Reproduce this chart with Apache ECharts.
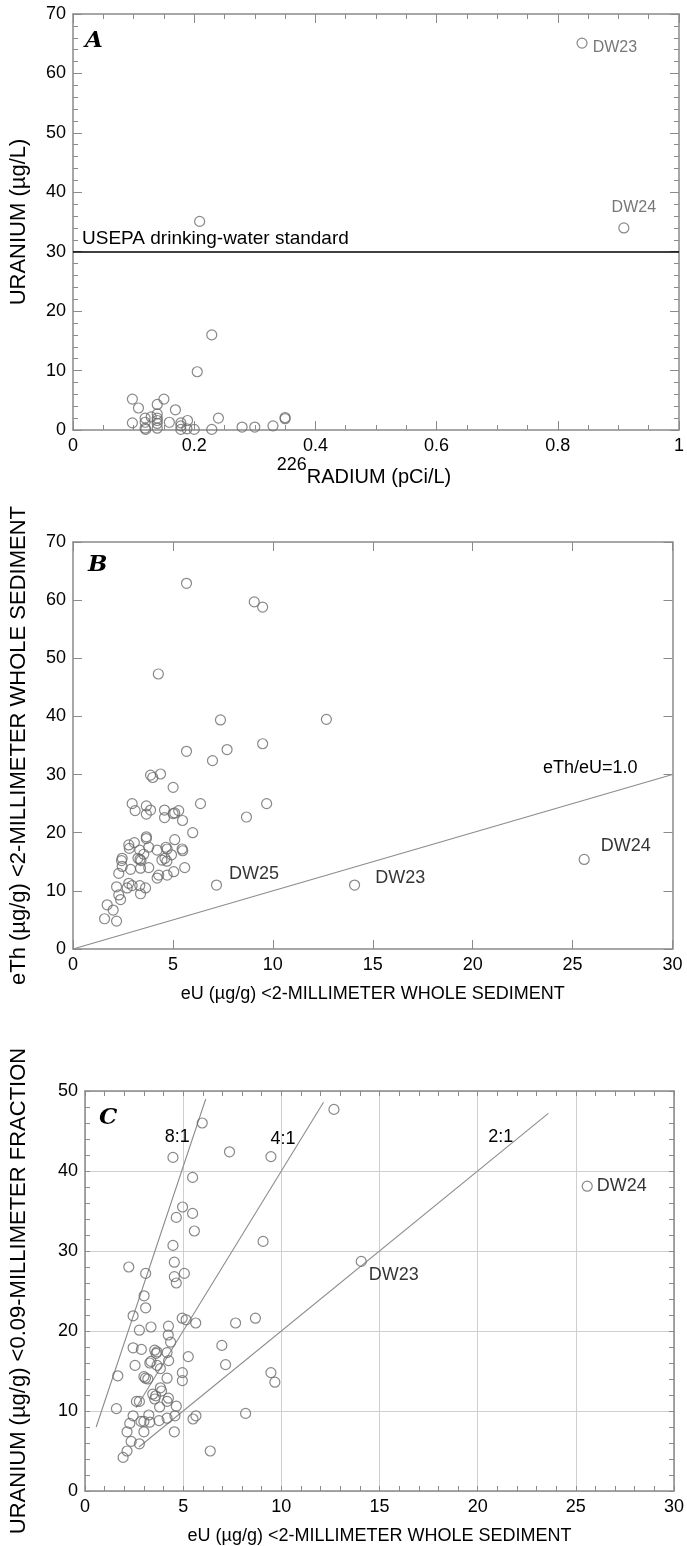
<!DOCTYPE html>
<html>
<head>
<meta charset="utf-8">
<script src="https://cdn.jsdelivr.net/npm/echarts@6/dist/echarts.min.js"></script>
<style>html,body{margin:0;padding:0;background:#fff}#c{width:687px;height:1546px}</style>
</head>
<body>
<div id="c"></div>
<script>
// ---------- Panel A: 226Ra vs U in water ----------
const aRadium  = [0.098,0.108,0.139,0.150,0.169,0.098,0.119,0.119,0.119,0.120,0.129,0.139,0.139,0.139,0.139,0.139,0.159,0.178,0.178,0.178,0.189,0.188,0.200,0.205,0.229,0.209,0.229,0.240,0.279,0.300,0.330,0.350,0.350];
const aUranium = [5.2,  3.7,  4.3,  5.2,  3.4,  1.2,  2.0,  1.3,  0.3,  0.1,  2.2,  2.7,  2.0,  1.6,  1.1,  0.3,  1.3,  1.2,  0.7,  0.1,  1.6,  0.2,  0.1,  9.8,  16.0, 35.1, 0.1,  2.0,  0.5,  0.5,  0.7,  2.1,  1.9];
const aTagNames   = ['DW23','DW24'];
const aTagRadium  = [0.840, 0.909];
const aTagUranium = [65.1, 34.0];
const usepaStandard = 30;
const usepaText = 'USEPA drinking-water standard';
const aXTicks = ['0','0.2','0.4','0.6','0.8','1'];
const aYTicks = ['0','10','20','30','40','50','60','70'];

// ---------- Panel B: eU vs eTh ----------
const bEU  = [5.68,9.07,9.49,4.27,7.38,12.68,5.68,7.71,9.49,6.98,3.88,3.99,4.38,5.01,2.96,3.11,3.67,3.67,3.88,4.58,4.58,5.01,5.09,5.29,5.48,6.38,9.69,8.68,5.99,3.67,3.67,5.09,3.07,2.79,2.82,3.34,3.79,4.21,4.65,4.71,4.93,5.46,5.49,2.46,2.43,3.25,3.35,3.40,3.54,4.45,4.60,4.70,3.79,3.38,2.88,2.29,2.46,4.29,4.21,4.71,5.04,5.59,2.79,2.96,2.71,2.18,3.34,3.63,3.38,2.29,2.38,1.71,2.01,1.58,2.18];
const bETh = [62.9,59.7,58.8,47.3,39.4,39.5,34.0,34.3,35.3,32.4,29.9,29.5,30.1,27.8,25.0,23.8,24.6,23.2,23.9,23.9,22.6,23.3,23.4,23.8,22.1,25.0,25.0,22.7,20.0,19.3,19.0,18.8,18.3,17.9,17.3,17.0,17.5,17.0,17.5,17.2,16.2,17.2,16.9,15.6,15.2,15.6,15.4,15.2,16.3,15.3,15.6,15.1,14.0,13.9,13.7,13.0,14.2,12.7,12.2,12.7,13.3,14.0,11.3,10.9,10.5,10.7,10.9,10.5,9.5,9.3,8.5,7.6,6.7,5.2,4.8];
const bTagNames = ['DW25','DW23','DW24'];
const bTagEU    = [7.18, 14.09, 25.58];
const bTagETh   = [11.0, 11.0, 15.4];
const bRatioLine = [[0,0],[30,30]];
const bRatioName = 'eTh/eU=1.0';
const bXTicks = ['0','5','10','15','20','25','30'];
const bYTicks = ['0','10','20','30','40','50','60','70'];

// ---------- Panel C: eU vs U in <0.09 mm fraction ----------
const cEU = [12.68,5.97,4.48,7.36,9.47,5.48,4.97,4.65,5.48,5.57,9.07,4.48,2.23,3.09,4.55,4.55,4.65,5.06,3.01,3.09,2.45,4.95,5.15,5.64,7.67,8.68,2.77,3.36,4.25,4.24,4.36,2.45,2.87,3.55,3.62,3.67,4.18,6.97,2.55,3.30,3.36,3.67,4.26,5.26,7.16,4.96,4.96,3.00,3.08,3.20,3.84,4.18,9.47,9.67,1.67,2.62,2.77,3.45,3.60,3.55,3.84,3.90,3.80,4.18,4.25,4.65,1.60,2.45,2.28,2.85,3.00,3.25,3.30,3.77,4.18,4.58,5.50,5.65,8.18,2.14,3.00,4.55,2.35,2.77,2.14,1.94,6.38];
const cU  = [47.7,46.0,41.7,42.4,41.8,39.2,35.5,34.2,34.7,32.5,31.2,30.7,28.0,27.2,28.6,26.8,26.0,27.2,24.4,22.9,21.9,21.6,21.4,21.0,21.0,21.6,20.1,20.5,20.6,19.5,18.6,17.9,17.7,17.6,17.2,17.4,17.3,18.2,15.7,16.0,16.2,15.7,16.3,16.8,15.8,14.8,13.8,14.3,14.1,14.0,15.3,14.1,14.8,13.6,14.4,11.2,11.2,12.1,11.9,11.5,12.9,12.5,10.5,11.2,11.6,10.6,10.3,9.4,8.45,8.7,8.7,9.5,8.6,8.8,9.1,9.4,9.0,9.4,9.7,7.4,7.4,7.4,6.2,5.9,5.0,4.2,5.0];
const cTagNames = ['DW23','DW24'];
const cTagEU    = [14.07, 25.58];
const cTagU     = [28.7, 38.1];
const cLineNames = ['8:1','4:1','2:1'];
const cLine8 = [[0.57,8.0],[6.15,49.0]];
const cLine4 = [[2.6,10.4],[12.15,48.6]];
const cLine2 = [[2.75,5.5],[23.6,47.2]];
const cXTicks = ['0','5','10','15','20','25','30'];
const cYTicks = ['0','10','20','30','40','50'];

// ---------- styling ----------
const FONT = '"Liberation Sans", Arial, sans-serif';
const AX = '#8a8a8a';
const PT = '#6a6a6a';
const TICK_FS = 18;
const zip = (xs, ys) => xs.map((x, i) => [x, ys[i]]);

function axisBase(g, min, max, interval, minor, tickLen, grid) {
  return {
    gridIndex: g, type: 'value', min, max, interval,
    axisLine: {show: true, onZero: false, lineStyle: {color: AX, width: 1.5}},
    axisTick: {show: true, inside: true, length: tickLen, lineStyle: {color: AX, width: 1}},
    minorTick: {show: minor > 0, splitNumber: minor || 5, length: 5, lineStyle: {color: AX, width: 1}},
    minorSplitLine: {show: false},
    splitLine: {show: !!grid, lineStyle: {color: '#cfcfcf', width: 1}}
  };
}
function xPair(g, min, max, interval, minor, tickLen, ticks, name, nameGap, grid) {
  const base = axisBase(g, min, max, interval, minor, tickLen, grid);
  return [
    Object.assign({}, base, {
      position: 'bottom',
      axisLabel: {color: '#000', fontSize: TICK_FS, fontFamily: FONT, margin: 7,
        formatter: v => ticks[Math.round((v - min) / interval)]},
      name, nameLocation: 'middle', nameGap,
      nameTextStyle: {color: '#000', fontSize: 18, fontFamily: FONT}
    }),
    Object.assign({}, base, {position: 'top', axisLabel: {show: false}, splitLine: {show: false}})
  ];
}
function yPair(g, min, max, interval, minor, tickLen, ticks, name, nameGap, grid) {
  const base = axisBase(g, min, max, interval, minor, tickLen, grid);
  return [
    Object.assign({}, base, {
      position: 'left',
      axisLabel: {color: '#000', fontSize: TICK_FS, fontFamily: FONT, margin: 7,
        formatter: v => ticks[Math.round((v - min) / interval)]},
      name, nameLocation: 'middle', nameGap,
      nameTextStyle: {color: '#000', fontSize: 22, fontFamily: FONT}
    }),
    Object.assign({}, base, {position: 'right', axisLabel: {show: false}, splitLine: {show: false}})
  ];
}

const circle = {color: 'rgba(0,0,0,0)', borderColor: PT, borderWidth: 1.2};
function scatter(xi, yi, data) {
  return {type: 'scatter', xAxisIndex: xi, yAxisIndex: yi, data, symbol: 'circle', symbolSize: 10,
    itemStyle: circle, silent: true, z: 3};
}
function tagged(xi, yi, names, xs, ys, labelStyles, color, size) {
  return {type: 'scatter', xAxisIndex: xi, yAxisIndex: yi, symbol: 'circle', symbolSize: 10,
    itemStyle: circle, silent: true, z: 3,
    data: names.map((n, i) => ({value: [xs[i], ys[i]], name: n,
      label: Object.assign({show: true, formatter: n, color, fontSize: size, fontFamily: FONT}, labelStyles[i])}))};
}
function refLine(xi, yi, pts, labelText, labelStyle) {
  return {type: 'line', xAxisIndex: xi, yAxisIndex: yi, silent: true, z: 2,
    symbol: 'circle', symbolSize: 0.1, showSymbol: true,
    lineStyle: {color: '#8c8c8c', width: 1.1}, itemStyle: {color: '#8c8c8c'},
    data: pts.map((p, i) => i === pts.length - 1
      ? {value: p, label: Object.assign({show: true, formatter: labelText, color: '#000', fontSize: 18, fontFamily: FONT}, labelStyle)}
      : {value: p})};
}

const letterStyle = {fontFamily: '"DejaVu Serif", "Liberation Serif", serif', fontStyle: 'italic', fontWeight: 'bold', fontSize: 23, color: '#000'};

const xAxis = [].concat(
  xPair(0, 0, 1, 0.2, 4, 9, aXTicks, '{sup|226}{base|RADIUM (pCi/L)}', 20, false),
  xPair(1, 0, 30, 5, 0, 9, bXTicks, 'eU (µg/g) <2-MILLIMETER WHOLE SEDIMENT', 36, false),
  xPair(2, 0, 30, 5, 5, 5, cXTicks, 'eU (µg/g) <2-MILLIMETER WHOLE SEDIMENT', 36, true)
);
xAxis[0].nameTextStyle = {color: '#000', fontFamily: FONT,
  rich: {sup: {fontSize: 18, fontFamily: FONT, color: '#000', lineHeight: 32, verticalAlign: 'top'},
         base: {fontSize: 20, fontFamily: FONT, color: '#000', lineHeight: 32, verticalAlign: 'bottom', padding: [11, 24, 0, 0]}}};

const yAxis = [].concat(
  yPair(0, 0, 70, 10, 5, 9, aYTicks, 'URANIUM (µg/L)', 43, false),
  yPair(1, 0, 70, 10, 0, 9, bYTicks, 'eTh (µg/g) <2-MILLIMETER WHOLE SEDIMENT', 43, false),
  yPair(2, 0, 50, 10, 5, 5, cYTicks, 'URANIUM (µg/g) <0.09-MILLIMETER FRACTION', 55, true)
);

const option = {
  animation: false,
  backgroundColor: '#fff',
  title: [
    {text: 'A', left: 80, top: 25, textStyle: letterStyle},
    {text: 'B', left: 83, top: 549, textStyle: letterStyle},
    {text: 'C', left: 94, top: 1102, textStyle: letterStyle}
  ],
  grid: [
    {left: 72, top: 14, width: 611, height: 416},
    {left: 72.5, top: 542, width: 600, height: 407},
    {left: 84.5, top: 1091, width: 590, height: 400}
  ],
  xAxis, yAxis,
  series: [
    Object.assign(scatter(0, 0, zip(aRadium, aUranium)), {
      markLine: {silent: true, symbol: 'none', animation: false,
        lineStyle: {color: '#000', width: 1.6, type: 'solid'},
        label: {show: true, position: 'insideStartTop', formatter: usepaText,
          color: '#000', fontSize: 19, fontFamily: FONT, distance: [9, 3]},
        data: [{yAxis: usepaStandard}]}
    }),
    tagged(0, 0, aTagNames, aTagRadium, aTagUranium,
      [{position: 'right', offset: [0, 4]}, {position: 'top', offset: [10, -2]}], '#555', 16),

    refLine(2, 2, bRatioLine, bRatioName, {position: 'left', offset: [-30, -7]}),
    scatter(2, 2, zip(bEU, bETh)),
    tagged(2, 2, bTagNames, bTagEU, bTagETh,
      [{position: 'right', offset: [2, -11]}, {position: 'right', offset: [10, -7]}, {position: 'right', offset: [6, -13]}], '#000', 18),

    refLine(4, 4, cLine8, cLineNames[0], {position: 'left', offset: [-11, 38]}),
    refLine(4, 4, cLine4, cLineNames[1], {position: 'left', offset: [-23, 37]}),
    refLine(4, 4, cLine2, cLineNames[2], {position: 'left', offset: [-30, 24]}),
    scatter(4, 4, zip(cEU, cU)),
    tagged(4, 4, cTagNames, cTagEU, cTagU,
      [{position: 'right', offset: [-3, 14]}, {position: 'right', offset: [-1, 0]}], '#000', 18)
  ]
};

const chart = echarts.init(document.getElementById('c'), null, {renderer: 'canvas'});
chart.setOption(option);
</script>
</body>
</html>
